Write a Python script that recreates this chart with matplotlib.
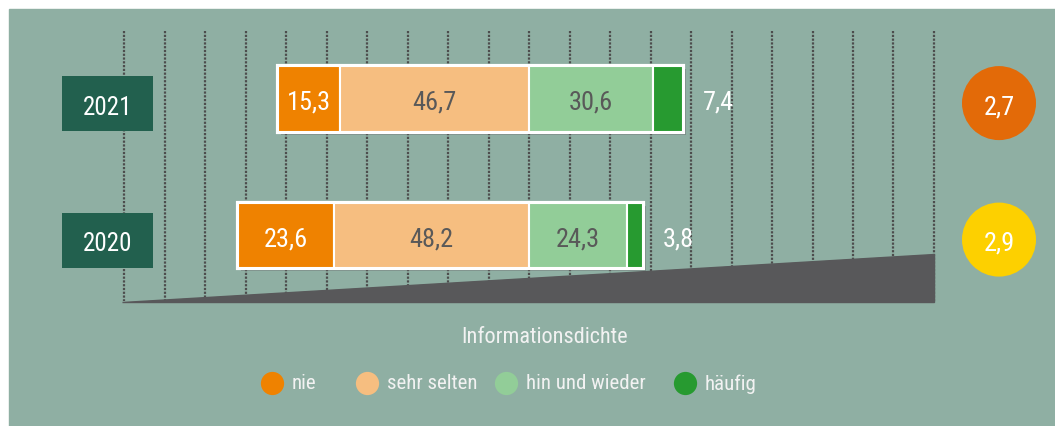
import numpy as np
import matplotlib
matplotlib.use("Agg")
import matplotlib.pyplot as plt
import matplotlib.patheffects as pe
from matplotlib.patches import Rectangle, Polygon

plt.rcParams['font.family'] = ['Roboto Condensed', 'Liberation Sans', 'DejaVu Sans']

# Umfragewerte in Prozent
years = ["2021", "2020"]
categories = ["nie", "sehr selten", "hin und wieder", "häufig"]
nie = [15.3, 23.6]
sehr_selten = [46.7, 48.2]
hin_und_wieder = [30.6, 24.3]
haeufig = [7.4, 3.8]
mittelwert = [2.7, 2.9]

seg_colors = ["#EF8200", "#F6BE80", "#92CD98", "#279A30"]
label_colors = ["white", "#595959", "#595959"]
circle_colors = ["#E36A08", "#FDD000"]
bg = "#8FAFA3"

# Pixel -> Daten (Skala: 10 Prozentpunkte = 40.5 px, Null bei x=529)
def px(x):
    return (x - 529) / 4.05

def py(y):
    return (y - 100) / 136.5

def fmt(v):
    return f"{v:.1f}".replace(".", ",")

fig = plt.figure(figsize=(10.55, 4.27), dpi=100)
fig.patches.append(Rectangle((9 / 1055, 0), 1, 1 - 10 / 427, transform=fig.transFigure,
                             color=bg, zorder=-1))
ax = fig.add_axes([0, 0, 1, 1])
ax.set_facecolor("none")
ax.set_xlim(px(0), px(1055))
ax.set_ylim(py(427), py(0))
ax.axis("off")

y = np.arange(len(years))
base = 10 / 136.5  # Abstand Grundlinie zur Balkenmitte

# gepunktete Hilfslinien und Keil
ax.vlines(np.arange(-100, 101, 10), py(32), py(302), colors="#4d4d4d",
          linestyles=(0, (1, 0.7)), lw=1.6, zorder=1)
ax.add_patch(Polygon([(-100.5, py(303)), (100, py(303)), (100, py(255))],
                     closed=True, color="#58585A", zorder=2))

# Balken: ausgerichtet an der Grenze sehr selten / hin und wieder
segments = [nie, sehr_selten, hin_und_wieder, haeufig]
left = -(np.array(nie) + np.array(sehr_selten))
total = np.sum(segments, axis=0)

frame = ax.barh(y, total, left=left, height=0.48, color="white", edgecolor="white",
                lw=3, zorder=3)
for p in frame:
    p.set_path_effects([pe.SimplePatchShadow(offset=(2, -2), alpha=0.35), pe.Normal()])

start = left.copy()
for i, vals in enumerate(segments):
    vals = np.array(vals)
    ax.barh(y, vals, left=start, height=0.48, color=seg_colors[i], edgecolor="white",
            lw=1.5, zorder=4)
    for j in range(len(years)):
        if i < 3:
            ax.text(start[j] + vals[j] / 2, y[j] + base, fmt(vals[j]), ha="center",
                    va="baseline", fontsize=19, color=label_colors[i], zorder=5)
        else:
            ax.text(start[j] + vals[j] + 5, y[j] + base, fmt(vals[j]), ha="left",
                    va="baseline", fontsize=19, color="white", zorder=5)
    start = start + vals

# Jahreskästen links
box_y = y + 0.035
ax.barh(box_y, px(153) - px(62), left=px(62), height=55 / 136.5, color="#22604E", zorder=3)
for j, yr in enumerate(years):
    ax.text((px(62) + px(153)) / 2, box_y[j] + base, yr, ha="center", va="baseline",
            fontsize=18, color="white", zorder=4)

# Mittelwerte rechts
ax.scatter([px(999)] * len(years), y + 0.03, s=2840, c=circle_colors, zorder=3, linewidths=0)
for j, m in enumerate(mittelwert):
    ax.text(px(999), y[j] + 0.03 + base, fmt(m), ha="center", va="baseline", fontsize=19,
            color="white", zorder=4)

ax.text(px(545), py(338), "Informationsdichte", ha="center", va="center", fontsize=16,
        color="#F2F2F2")

# Legende
leg_x = [272, 367, 506, 685]
for c, lab, lx in zip(seg_colors, categories, leg_x):
    ax.scatter(px(lx), py(384), s=280, color=c, linewidths=0, zorder=3)
    ax.text(px(lx + 20), py(384), lab, ha="left", va="center", fontsize=15, color="#F2F2F2")

fig.savefig("out.png", dpi=100, facecolor="white")
